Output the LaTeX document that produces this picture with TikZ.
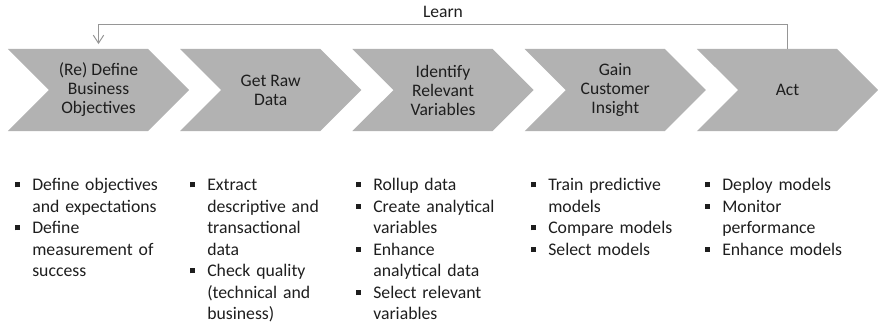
\documentclass[tikz,border=0pt]{standalone}
\usepackage{fontspec}
\setmainfont{Carlito}
\usepackage{enumitem}
\usepackage{xcolor}
\usepackage{tikz}
\usetikzlibrary{arrows.meta,shapes.symbols}

\definecolor{chevgray}{RGB}{178,178,178}
\definecolor{learngray}{RGB}{150,150,150}
\definecolor{inkgray}{RGB}{30,30,30}

\setlist[itemize]{label={\raisebox{2.4pt}{\rule{3.6pt}{3.6pt}}},
  leftmargin=0.4375cm, labelsep=0.3125cm, labelwidth=3.6pt,
  topsep=0pt, partopsep=0pt, itemsep=0pt, parsep=0pt}

\begin{document}
\begin{tikzpicture}[x=0.025cm,y=-0.025cm]
				\useasboundingbox (0,0) rectangle (878,323);

				\begin{scope}[every node/.style={signal,signal from=west,signal to=east,
				              signal pointer angle=90,fill=chevgray,
				              minimum width=4.525cm,minimum height=2.05cm,
				              inner sep=0pt,outer sep=0pt,align=center,text=inkgray,
				              font=\fontsize{12.5}{13.5}\selectfont}]
				    \node (A) at (98.5,90) {(Re) Define\\Business\\Objectives};
				    \node (B) at (270.75,90) {Get Raw\\Data};
				    \node (C) at (443,90) {Identify\\Relevant\\Variables};
				    \node (D) at (615.25,90) {Gain\\Customer\\Insight};
				    \node (E) at (787.5,90) {Act};
				\end{scope}

				\begin{scope}[>={Straight Barb[length=2mm,width=2.6mm]},
				              every node/.style={text=inkgray,font=\fontsize{12.5}{13.5}\selectfont}]
				    \coordinate (bend) at (98.5,24);
				    \draw [->,draw=learngray,line width=0.7pt,shorten >=3.5pt]
				        (E.north) |- node[pos=0.75,above=1pt] {Learn} (bend) -- (A.north);
				\end{scope}

				\begin{scope}[every node/.style={anchor=north west,text width=3.9cm,align=left,
				              inner sep=0pt,text=inkgray,font=\fontsize{12.6}{15.3}\selectfont}]
				    \node (LA) at (14.5,169) {\begin{itemize}
				        \item Define objectives\newline and expectations
				        \item Define\newline measurement of\newline success
				    \end{itemize}};
				    \node (LB) at (189.5,169) {\begin{itemize}
				        \item Extract\newline descriptive and\newline transactional\newline data
				        \item Check quality\newline (technical and\newline business)
				    \end{itemize}};
				    \node (LC) at (355.5,169) {\begin{itemize}
				        \item Rollup data
				        \item Create analytical\newline variables
				        \item Enhance\newline analytical data
				        \item Select relevant\newline variables
				    \end{itemize}};
				    \node (LD) at (530.5,169) {\begin{itemize}
				        \item Train predictive\newline models
				        \item Compare models
				        \item Select models
				    \end{itemize}};
				    \node (LE) at (704.5,169) {\begin{itemize}
				        \item Deploy models
				        \item Monitor\newline performance
				        \item Enhance models
				    \end{itemize}};
				\end{scope}
\end{tikzpicture}
\end{document}
